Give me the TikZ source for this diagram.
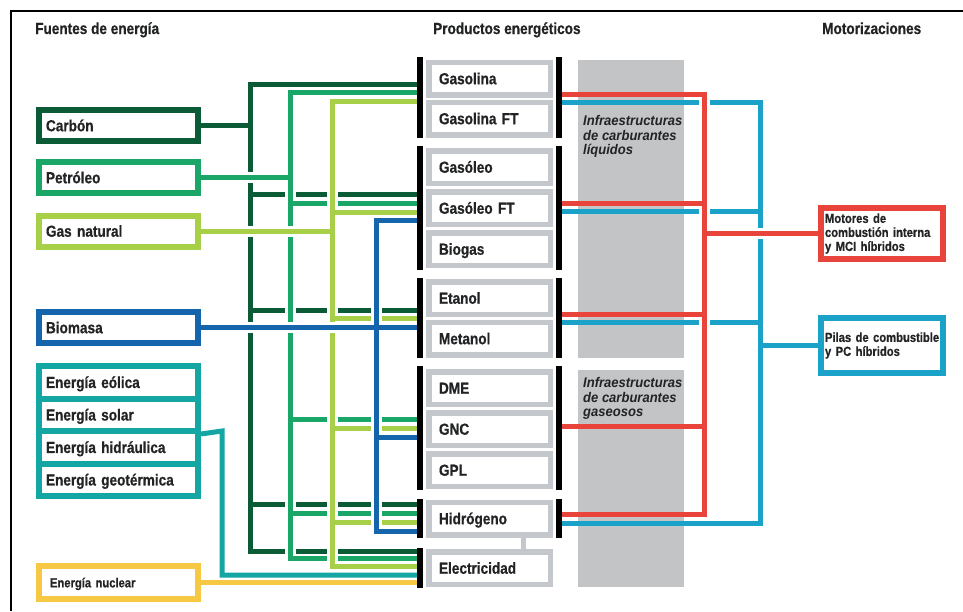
\documentclass[tikz,border=0pt]{standalone}
\usepackage{fontspec}
\setmainfont{Liberation Sans}[FakeStretch=0.85, BoldFeatures={FakeBold=0.6}]
\newfontfamily\infofont{Liberation Sans}[FakeStretch=0.93]
\usetikzlibrary{calc}
\definecolor{dkg}{HTML}{0C5B37}
\definecolor{mdg}{HTML}{1AA667}
\definecolor{ltg}{HTML}{A8CF48}
\definecolor{bio}{HTML}{1565AD}
\definecolor{tea}{HTML}{14A6A3}
\definecolor{yel}{HTML}{F7C843}
\definecolor{rln}{HTML}{E8443C}
\definecolor{bln}{HTML}{1AA2C8}
\definecolor{pgray}{HTML}{C4C7CB}
\definecolor{panel}{HTML}{C2C4C6}
\definecolor{txt}{HTML}{222324}
\newcommand\fA{\fontsize{16}{18}\selectfont\bfseries}
\newcommand\fB{\fontsize{13.2}{14}\selectfont\bfseries}
\newcommand\fI{\infofont\fontsize{14}{14.7}\selectfont\bfseries\itshape}
\begin{document}
\begin{tikzpicture}[x=1pt, y=-1pt, line cap=butt, text=txt,
  ln/.style={line width=5pt},
  cas/.style={draw=white, line width=11pt},
  barline/.style={line width=6pt, draw=black},
  srcbox/.style={draw, line width=6pt, fill=white, minimum width=159pt, minimum height=31pt,
    text width=145pt, inner xsep=7pt, inner ysep=0pt, align=left, font=\fA,
    text height=14.46pt, text depth=3pt},
  prod/.style={draw=pgray, line width=5.5pt, fill=white, minimum width=121.5pt, minimum height=32.5pt,
    text width=101pt, inner xsep=10.25pt, inner ysep=0pt, align=left, font=\fA,
    text height=14.46pt, text depth=3pt},
  motbox/.style={draw, line width=6pt, fill=white, minimum width=122pt, text width=114pt,
    inner xsep=4pt, inner ysep=0pt, align=left, font=\fB},
  head/.style={anchor=base west, inner sep=0pt, font=\fA},
  infotext/.style={anchor=north west, inner sep=0pt, align=left, font=\fI}]
\useasboundingbox (0,0) rectangle (963,611);
\fill[white] (0,0) rectangle (963,611);
\draw[line width=2pt, black] (11,611) -- (11,11) -- (963,11);

% headers
\node[head] (h1) at (35,34) {Fuentes de energía};
\node[head] (h2) at (433,34) {Productos energéticos};
\node[head] (h3) at (822,34) {Motorizaciones};

% infrastructure panels
\fill[panel] (578,60) rectangle (684,358);
\fill[panel] (578,370) rectangle (684,587);
\node[infotext] (liq) at (583,115) {Infraestructuras\\de carburantes\\líquidos};
\node[infotext] (gasi) at (583,377) {Infraestructuras\\de carburantes\\gaseosos};

% source boxes
\node[srcbox, draw=dkg] (carbon) at (118.5,125.5) {Carbón};
\node[srcbox, draw=mdg] (petroleo) at (118.5,177.5) {Petróleo};
\node[srcbox, draw=ltg] (gas) at (118.5,231) {Gas natural};
\node[srcbox, draw=bio] (biomasa) at (118.5,327.5) {Biomasa};
\node[srcbox, draw=tea, minimum height=32.5pt] (eolica) at (118.5,382.25) {Energía eólica};
\node[srcbox, draw=tea, minimum height=32.5pt] (solar) at (118.5,414.75) {Energía solar};
\node[srcbox, draw=tea, minimum height=32.5pt] (hidraulica) at (118.5,447.25) {Energía hidráulica};
\node[srcbox, draw=tea, minimum height=32.5pt] (geotermica) at (118.5,479.75) {Energía geotérmica};
\node[srcbox, draw=yel, minimum height=33pt, font=\fB, inner xsep=11pt, text width=137pt,
  text height=12.7pt] (nuclear) at (118.5,582.5) {Energía nuclear};

% product boxes
\node[prod] (gasolina) at (489.5,78.5) {Gasolina};
\node[prod] (gasolinaft) at (489.5,118.5) {Gasolina FT};
\node[prod] (gasoleo) at (489.5,167) {Gasóleo};
\node[prod] (gasoleoft) at (489.5,208) {Gasóleo FT};
\node[prod] (biogas) at (489.5,249) {Biogas};
\node[prod] (etanol) at (489.5,298) {Etanol};
\node[prod] (metanol) at (489.5,338.5) {Metanol};
\node[prod] (dme) at (489.5,388) {DME};
\node[prod] (gnc) at (489.5,429) {GNC};
\node[prod] (gpl) at (489.5,470) {GPL};
\node[prod] (hidrogeno) at (489.5,518.5) {Hidrógeno};
\node[prod] (electricidad) at (489.5,568) {Electricidad};
\draw[pgray, line width=5.5pt] ($(hidrogeno.south)+(34,0)$) -- ($(electricidad.north)+(34,0)$);

% engine boxes
\node[motbox, draw=rln, minimum height=51pt] (motores) at (882,233.5)
  {\mbox{Motores de}\\\mbox{combustión interna}\\\mbox{y MCI híbridos}};
\node[motbox, draw=bln, minimum height=55pt] (pilas) at (882,345.5)
  {\mbox{Pilas de combustible}\\\mbox{y PC híbridos}};

% ---- left network ----
% dark green (Carbón)
\draw[ln,dkg] (420,84) -| (250,551) -- (420,551);
\foreach \y in {194,310,504} \draw[ln,dkg] (250,\y) -- (420,\y);
% medium green (Petróleo)
\draw[cas] (290,92) -- (290,558);
\draw[ln,mdg] (420,92) -| (290,558) -- (420,558);
\foreach \y in {203,419,513} \draw[ln,mdg] (290,\y) -- (420,\y);
% light green (Gas natural)
\draw[cas] (332,101) -- (332,566);
\draw[ln,ltg] (420,101) -| (332,566) -- (420,566);
\foreach \y in {212,318,428,522} \draw[ln,ltg] (332,\y) -- (420,\y);
% blue (Biomasa)
\draw[cas] (376,220) -- (376,531);
\draw[ln,bio] (420,220) -| (376,531) -- (420,531);
\draw[ln,bio] (376,437) -- (420,437);
% teal (renewables)
\draw[ln,tea] (solar.south east) -- (222,431) -- (222,575) -- (420,575);
% yellow (nuclear)
\draw[ln,yel] (nuclear.east) -- (420,582.5);
% source feeders
\draw[ln,dkg] (carbon.east) -- (250,125.5);
\draw[cas] (240,177.5) -- (287,177.5);
\draw[ln,mdg] (petroleo.east) -- (290,177.5);
\draw[cas] (240,231) -- (329,231);
\draw[ln,ltg] (gas.east) -- (332,231);
\draw[cas] (240,327.5) -- (373,327.5);
\draw[ln,bio] (biomasa.east) -- (420,327.5);

% ---- right network ----
\draw[ln,bln] (559,102) -| (760,523) -- (559,523);
\foreach \y in {211,322} \draw[ln,bln] (559,\y) -- (760,\y);
\draw[ln,bln] (760,345.5) -- (pilas.west);
\draw[cas] (704,94) -- (704,514);
\draw[ln,rln] (559,94) -| (704,514) -- (559,514);
\foreach \y in {203,314,426} \draw[ln,rln] (559,\y) -- (704,\y);
\draw[cas] (712,233.5) -- (812,233.5);
\draw[ln,rln] (704,233.5) -- (motores.west);

% ---- group bars ----
\draw[barline] (420,57) -- (420,138);
\draw[barline] (420,146) -- (420,270);
\draw[barline] (420,278) -- (420,358);
\draw[barline] (420,366) -- (420,490);
\draw[barline] (420,499) -- (420,538);
\draw[barline] (420,548) -- (420,588);
\draw[barline] (559,57) -- (559,138);
\draw[barline] (559,146) -- (559,270);
\draw[barline] (559,278) -- (559,358);
\draw[barline] (559,366) -- (559,490);
\draw[barline] (559,499) -- (559,538);
\end{tikzpicture}
\end{document}
